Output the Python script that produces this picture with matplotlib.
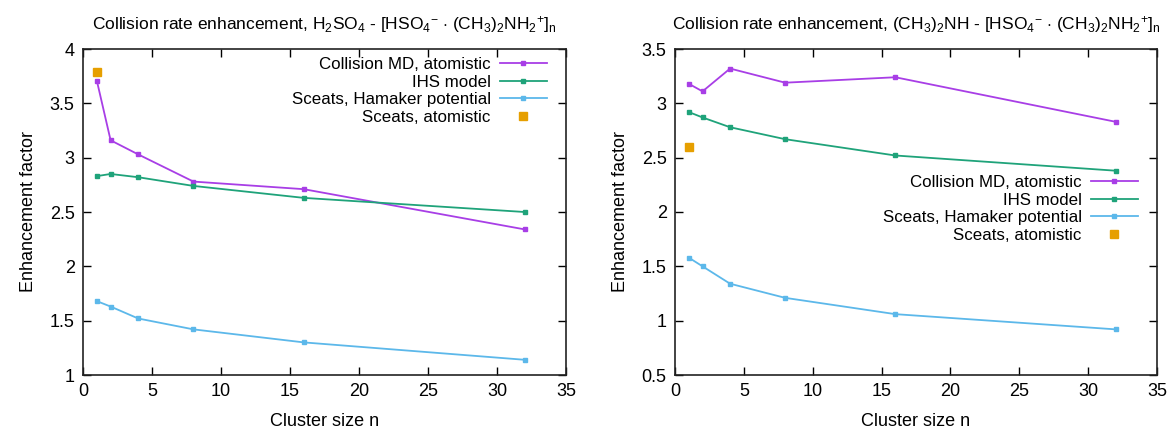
import matplotlib
matplotlib.use("Agg")
import matplotlib.pyplot as plt

plt.rcParams['font.family'] = ['Liberation Sans', 'DejaVu Sans']
plt.rcParams['mathtext.fontset'] = 'custom'
plt.rcParams['mathtext.rm'] = 'Liberation Sans'
plt.rcParams['mathtext.it'] = 'Liberation Sans:italic'
plt.rcParams['font.size'] = 12

n = [1, 2, 4, 8, 16, 32]

# left panel: H2SO4 - cluster
left_md = [3.71, 3.16, 3.03, 2.78, 2.71, 2.34]
left_ihs = [2.83, 2.85, 2.82, 2.74, 2.63, 2.50]
left_hamaker = [1.68, 1.63, 1.52, 1.42, 1.30, 1.14]
left_atom_n = [1]
left_atom = [3.79]

# right panel: (CH3)2NH - cluster
right_md = [3.18, 3.11, 3.32, 3.19, 3.24, 2.83]
right_ihs = [2.92, 2.87, 2.78, 2.67, 2.52, 2.38]
right_hamaker = [1.58, 1.50, 1.34, 1.21, 1.06, 0.92]
right_atom_n = [1]
right_atom = [2.60]

labels = ['Collision MD, atomistic', 'IHS model', 'Sceats, Hamaker potential', 'Sceats, atomistic']
colors = ['#a83ee6', '#1fa37a', '#5cb8ea', '#e69f00']

left_title = (r'Collision rate enhancement, H$_2$SO$_4$ - [HSO$_4$$^{-}$ $\cdot$ '
              r'(CH$_3$)$_2$NH$_2$$^{+}$]$_\mathrm{n}$')
right_title = (r'Collision rate enhancement, (CH$_3$)$_2$NH - [HSO$_4$$^{-}$ $\cdot$ '
               r'(CH$_3$)$_2$NH$_2$$^{+}$]$_\mathrm{n}$')

fig = plt.figure(figsize=(11.7, 4.3), dpi=100)
W, H = 1170, 430
ax1 = fig.add_axes([83 / W, (H - 375) / H, (566 - 83) / W, (375 - 49) / H])
ax2 = fig.add_axes([675 / W, (H - 375) / H, (1157 - 675) / W, (375 - 49) / H])


def draw(ax, md, ihs, ham, atom_n, atom, ylim, yticks, title, leg_anchor):
    ax.plot(n, md, color=colors[0], lw=1.3, marker='s', ms=2.2, label=labels[0])
    ax.plot(n, ihs, color=colors[1], lw=1.3, marker='s', ms=2.2, label=labels[1])
    ax.plot(n, ham, color=colors[2], lw=1.3, marker='s', ms=2.2, label=labels[2])
    ax.plot(atom_n, atom, color=colors[3], ls='none', marker='s', ms=5.5, label=labels[3])
    ax.set_xlim(0, 35)
    ax.set_ylim(*ylim)
    ax.set_xticks(range(0, 36, 5))
    ax.set_yticks(yticks)
    ax.set_yticklabels([f'{t:g}' for t in yticks])
    ax.tick_params(direction='in', top=True, right=True, length=6, width=1, labelsize=13, pad=6)
    for s in ax.spines.values():
        s.set_linewidth(1.2)
        s.set_color('#222222')
    ax.set_xlabel('Cluster size n', fontsize=13, labelpad=9)
    ax.set_ylabel('Enhancement factor', fontsize=13, labelpad=9)
    ax.set_title(title, fontsize=12.5, pad=14)
    ax.legend(loc='upper right', bbox_to_anchor=leg_anchor, markerfirst=False, frameon=False,
              handlelength=2.75, handletextpad=0.55, labelspacing=0.15, borderpad=0,
              borderaxespad=0, fontsize=12.2)


draw(ax1, left_md, left_ihs, left_hamaker, left_atom_n, left_atom, (1, 4),
     [1, 1.5, 2, 2.5, 3, 3.5, 4], left_title, (0.96, 0.975))
draw(ax2, right_md, right_ihs, right_hamaker, right_atom_n, right_atom, (0.5, 3.5),
     [0.5, 1, 1.5, 2, 2.5, 3, 3.5], right_title, (0.96, 0.613))

fig.savefig('out.png', dpi=100)
